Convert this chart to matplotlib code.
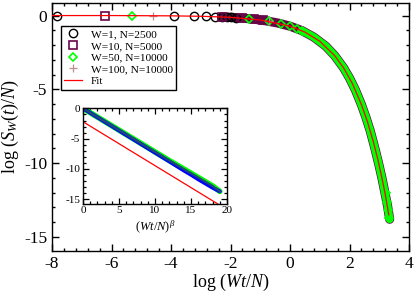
import numpy as np
import matplotlib
matplotlib.use("Agg")
import matplotlib.pyplot as plt
from matplotlib.ticker import MultipleLocator

plt.rcParams['font.family'] = ['Liberation Serif', 'DejaVu Serif']
plt.rcParams['mathtext.fontset'] = 'custom'
plt.rcParams['mathtext.rm'] = 'Liberation Serif'
plt.rcParams['mathtext.it'] = 'Liberation Serif:italic'
plt.rcParams['mathtext.fallback'] = 'stix'
plt.rcParams['axes.unicode_minus'] = False

# --- main panel: log(S_W(t)/N) vs log(Wt/N) ---
# sparse markers before the curve gets dense
circ_x = [-7.82, -3.91, -3.22, -2.81, -2.53, -2.30, -2.12, -1.97, -1.83]
circ_y = [0.0, -0.02, -0.03, -0.05, -0.07, -0.09, -0.11, -0.12, -0.14]
sq_x = [-6.21, -2.30, -1.61, -1.20, -0.92]
sq_y = [0.0, -0.09, -0.17, -0.25, -0.32]
dia_x = [-5.30, -1.39, -0.69, -0.29, 0.0, 0.22, 0.41, 3.22, 3.27, 3.30, 3.33]
dia_y = [0.0, -0.24, -0.40, -0.57, -0.73, -0.89, -1.05, -12.0, -12.6, -13.2, -13.7]
plus_x = [-4.61, -0.69]
plus_y = [-0.01, -0.39]

# dense band where all markers overlap
band_x = [-2.3, -2.0, -1.6, -1.2, -0.8, -0.4, 0.0, 0.4, 0.8, 1.2, 1.5, 1.8,
          2.0, 2.2, 2.4, 2.55, 2.7, 2.85, 3.0, 3.1, 3.2, 3.28, 3.35]
band_y = [-0.09, -0.12, -0.17, -0.25, -0.36, -0.51, -0.72, -1.02, -1.46, -2.07,
          -2.71, -3.54, -4.23, -5.05, -6.03, -6.88, -7.83, -8.97, -10.2, -11.1,
          -12.1, -12.9, -13.8]
green_from = 7   # green band starts at x = 0.4

fit_x = [-8.0, -6.0, -4.0, -3.0, -2.0, -1.0, 0.0, 0.5, 1.0, 1.5, 1.8, 2.1,
         2.4, 2.6, 2.8, 2.95, 3.1, 3.2, 3.32]
fit_y = [0.0, 0.0, -0.02, -0.05, -0.12, -0.30, -0.72, -1.12, -1.74, -2.71,
         -3.54, -4.62, -6.03, -7.17, -8.54, -9.72, -11.1, -12.1, -13.5]

# --- inset: log(S_W(t)/N) vs (Wt/N)^beta ---
in_x = [0, 1, 2, 4, 6, 8, 10, 12, 14, 15, 16, 17, 18, 19]
in_yg = [0, -0.70, -1.42, -2.86, -4.30, -5.74, -7.18, -8.62, -10.0, -10.7,
         -11.4, -12.1, -12.8, -13.7]
in_yb = [0, -0.72, -1.46, -2.92, -4.38, -5.84, -7.30, -8.76, -10.25, -10.95,
         -11.7, -12.4, -13.1, -13.7]
in_fit_x = [0, 20]
in_fit_y = [-2.2, -16.7]

maroon = '#670748'
brown = '#bc8f8f'
lime = '#00ff00'

fig = plt.figure(figsize=(4.15, 2.92), dpi=100)
ax = fig.add_axes([52/415, 1-251/292, 357/415, 248/292])

ax.plot(band_x, band_y, color=maroon, lw=6.6, solid_capstyle='round', zorder=2)
ax.plot(band_x[green_from:], band_y[green_from:], color=lime, lw=5.6,
        solid_capstyle='round', zorder=3)
ax.plot(circ_x, circ_y, 'o', ms=6, mfc='none', mec='black', mew=1.0, zorder=4,
        label='W=1, N=2500')
ax.plot(sq_x, sq_y, 's', ms=5.5, mfc='none', mec=maroon, mew=1.2, zorder=4,
        label='W=10, N=5000')
ax.plot(dia_x, dia_y, 'D', ms=4.5, mfc='none', mec=lime, mew=1.2, zorder=4,
        label='W=50, N=10000')
ax.plot(plus_x, plus_y, '+', ms=6, mec=brown, mew=0.9, zorder=4,
        label='W=100, N=10000')
ax.plot(fit_x, fit_y, '-', color='red', lw=0.9, zorder=5, label='Fit')

ax.set_xlim(-8, 4)
ax.set_ylim(-15.95, 0.85)
ax.xaxis.set_major_locator(MultipleLocator(2))
ax.xaxis.set_minor_locator(MultipleLocator(0.4))
ax.yaxis.set_major_locator(MultipleLocator(5))
ax.yaxis.set_minor_locator(MultipleLocator(1))
ax.tick_params(which='both', direction='in', top=True, right=True,
               labelsize=12.5, width=1.0)
ax.tick_params(which='major', length=5)
ax.tick_params(which='minor', length=2.5)
for s in ax.spines.values():
    s.set_linewidth(1.0)
ax.set_xlabel('log ($Wt/N$)', fontsize=13, labelpad=0)
ax.set_ylabel('log ($S_W(t)/N$)', fontsize=13, labelpad=2)

leg = ax.legend(loc='upper left', bbox_to_anchor=(61/415, 1-26/292),
                bbox_transform=fig.transFigure, borderaxespad=0,
                fontsize=8.2, frameon=True, fancybox=False, framealpha=1,
                edgecolor='black', handlelength=1.5, handletextpad=0.8,
                labelspacing=0.15, borderpad=0.3)
leg.get_frame().set_linewidth(1.0)

# inset
axi = fig.add_axes([83/415, 1-203.5/292, 144/415, 96/292])
axi.plot(in_x, in_yg, color=lime, lw=4.0, solid_capstyle='round')
axi.plot(in_x, in_yb, color='blue', lw=2.8, solid_capstyle='round')
axi.plot(in_x, in_yg, color='#1f4f6f', lw=1.6)
axi.plot(in_fit_x, in_fit_y, color='red', lw=0.9)
axi.set_xlim(0, 20)
axi.set_ylim(-15.7, 0.15)
axi.xaxis.set_major_locator(MultipleLocator(5))
axi.xaxis.set_minor_locator(MultipleLocator(1))
axi.yaxis.set_major_locator(MultipleLocator(5))
axi.yaxis.set_minor_locator(MultipleLocator(1))
axi.tick_params(which='both', direction='in', top=True, right=True,
                labelsize=8, width=0.9, pad=2)
axi.tick_params(which='major', length=4)
axi.tick_params(which='minor', length=2)
for s in axi.spines.values():
    s.set_linewidth(1.0)
axi.set_xlabel(r'$(Wt/N)^{\beta}$', fontsize=9, labelpad=2)

fig.savefig('out.png', dpi=100)
